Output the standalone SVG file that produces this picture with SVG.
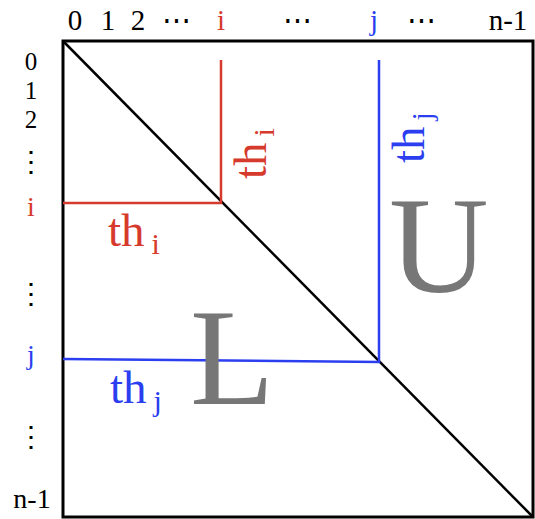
<svg xmlns="http://www.w3.org/2000/svg" width="535" height="519" viewBox="0 0 535 519">
<style>
text{font-family:"Liberation Serif","Times New Roman","DejaVu Serif",serif;}
.lbl{font-size:29px;text-anchor:middle;fill:#000;}
.lft{font-size:28px;}
.sm{font-size:25px;}
.red{fill:#d63a2c;}
.blue{fill:#2b3ff0;}
.th{font-size:47px;}
.sub{font-size:30px;}
.big{font-size:138px;fill:#777777;}
.ln{fill:none;stroke-width:2.5;}
</style>
<rect width="535" height="519" fill="#fff"/>
<g id="frame">
<rect x="63" y="41" width="470" height="476" fill="none" stroke="#000" stroke-width="3"/>
<line x1="63" y1="41" x2="533" y2="517" stroke="#000" stroke-width="2.5"/>
</g>
<g id="connectors">
<polyline class="ln" stroke="#d63a2c" points="221,60 221,203 63,203"/>
<polyline class="ln" stroke="#2b3ff0" points="379,60 379,362 63,359"/>
</g>
<g id="top-labels">
<text class="lbl" x="75" y="30">0</text>
<text class="lbl" x="108" y="30">1</text>
<text class="lbl" x="138" y="30">2</text>
<text class="lbl" x="176" y="30">⋯</text>
<text class="lbl red" x="221" y="30">i</text>
<text class="lbl" x="297" y="30">⋯</text>
<text class="lbl blue" x="374" y="30">j</text>
<text class="lbl" x="421" y="30">⋯</text>
<text class="lbl" x="508" y="30">n-1</text>
</g>
<g id="left-labels">
<text class="lbl sm" x="31" y="70">0</text>
<text class="lbl sm" x="31" y="99">1</text>
<text class="lbl sm" x="31" y="128">2</text>
<text class="lbl lft" x="31" y="171">⋮</text>
<text class="lbl lft red" x="31" y="216">i</text>
<text class="lbl lft" x="31" y="303">⋮</text>
<text class="lbl lft blue" x="31" y="364">j</text>
<text class="lbl lft" x="31" y="446">⋮</text>
<text class="lbl lft" x="32" y="508">n-1</text>
</g>
<g id="th-i-h">
<text class="red" x="108" y="246"><tspan class="th">th</tspan><tspan class="sub" dx="7" dy="8">i</tspan></text>
</g>
<g id="th-i-v">
<text class="red" transform="translate(266,179) rotate(-90)"><tspan class="th">th</tspan><tspan class="sub" dx="6" dy="8">i</tspan></text>
</g>
<g id="th-j-h">
<text class="blue" x="110" y="403"><tspan class="th">th</tspan><tspan class="sub" dx="7" dy="8">j</tspan></text>
</g>
<g id="th-j-v">
<text class="blue" transform="translate(424,163) rotate(-90)"><tspan class="th">th</tspan><tspan class="sub" dx="6" dy="8">j</tspan></text>
</g>
<g id="U"><text class="big" x="389" y="292">U</text></g>
<g id="L"><text class="big" x="190" y="404">L</text></g>
</svg>
